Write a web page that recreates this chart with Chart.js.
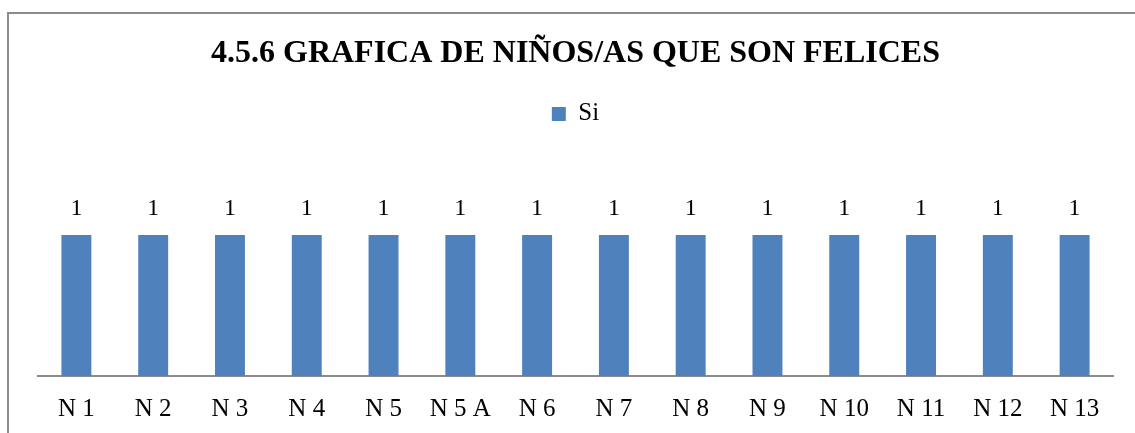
<!DOCTYPE html>
<html>
<head>
<meta charset="utf-8">
<script src="https://cdn.jsdelivr.net/npm/chart.js@4.4.1/dist/chart.umd.min.js"></script>
<style>
  html, body { margin: 0; padding: 0; background: #fff; }
  #wrap { position: relative; width: 1135px; height: 433px; overflow: hidden; }
  #frame { position: absolute; left: 7px; top: 12px; width: 1200px; height: 500px;
           border-left: 2px solid #8c8c8c; border-top: 2px solid #8c8c8c; }
  canvas { position: absolute; left: 0; top: 0; }
</style>
</head>
<body>
<div id="wrap">
  <div id="frame"></div>
  <canvas id="c" width="1135" height="442"></canvas>
</div>
<script>
const categories = ["N 1", "N 2", "N 3", "N 4", "N 5", "N 5 A", "N 6", "N 7", "N 8", "N 9", "N 10", "N 11", "N 12", "N 13"];
const siValues = [1, 1, 1, 1, 1, 1, 1, 1, 1, 1, 1, 1, 1, 1];
const seriesName = "Si";
const titleText = "4.5.6 GRAFICA DE NIÑOS/AS QUE SON FELICES";

const serif = "'Liberation Serif', 'Times New Roman', serif";

const valueLabels = {
  id: 'valueLabels',
  afterDatasetsDraw(chart) {
    const ctx = chart.ctx;
    ctx.save();
    ctx.font = "24px " + serif;
    ctx.fillStyle = "#000";
    ctx.textAlign = "center";
    ctx.textBaseline = "bottom";
    chart.data.datasets.forEach((ds, i) => {
      const meta = chart.getDatasetMeta(i);
      meta.data.forEach((el, j) => {
        ctx.fillText(String(ds.data[j]), el.x, el.y - 14);
      });
    });
    ctx.restore();
  }
};

new Chart(document.getElementById('c'), {
  type: 'bar',
  data: {
    labels: categories,
    datasets: [{
      label: seriesName,
      data: siValues,
      backgroundColor: '#4f81bd',
      borderWidth: 0,
      categoryPercentage: 1.0,
      barPercentage: 0.39
    }]
  },
  options: {
    responsive: false,
    animation: false,
    devicePixelRatio: 1,
    layout: { padding: { left: 38, right: 22, top: 0, bottom: 0 } },
    plugins: {
      title: {
        display: true,
        text: titleText,
        color: '#000',
        font: { family: serif, size: 32, weight: 'bold' },
        padding: { top: 35, bottom: 18 }
      },
      legend: {
        display: true,
        position: 'top',
        labels: {
          color: '#000',
          font: { family: serif, size: 25 },
          boxWidth: 14,
          boxHeight: 14,
          padding: 10
        }
      },
      tooltip: { enabled: false }
    },
    scales: {
      x: {
        grid: { display: false, drawTicks: false },
        border: { display: true, color: '#8c8c8c', width: 2 },
        ticks: { color: '#000', font: { family: serif, size: 25 }, padding: 18, maxRotation: 0, autoSkip: false }
      },
      y: {
        display: false,
        min: 0,
        max: 1.70,
        beginAtZero: true
      }
    }
  },
  plugins: [valueLabels]
});
</script>
</body>
</html>
